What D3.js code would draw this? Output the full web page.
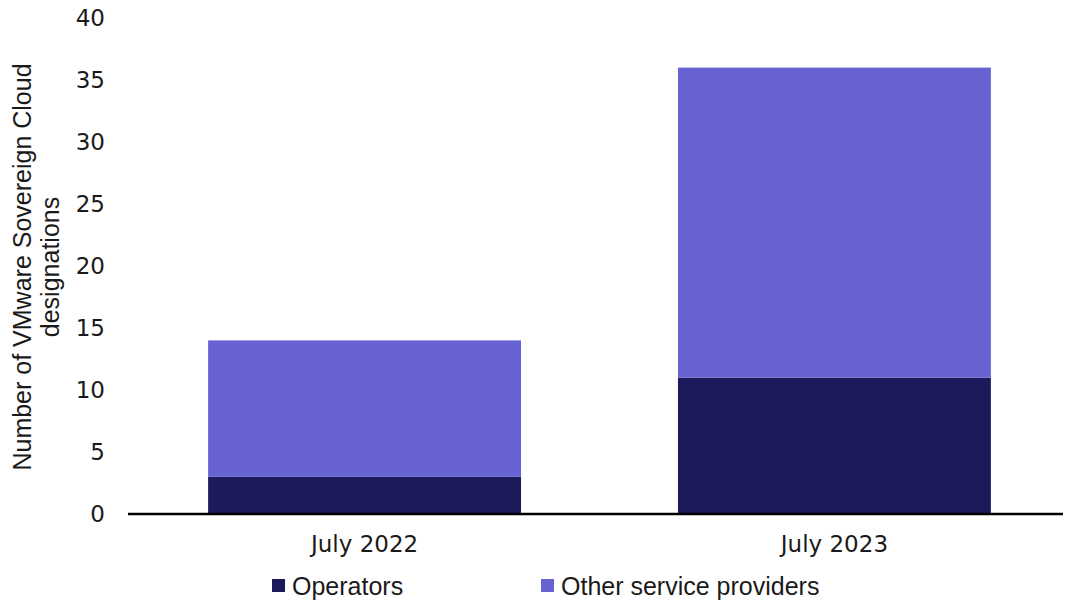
<!DOCTYPE html>
<html>
<head>
<meta charset="utf-8">
<script src="https://cdn.jsdelivr.net/npm/d3@7"></script>
<style>
  body { margin: 0; background: #fff; }
  svg text { fill: #1a1a1a; }
</style>
</head>
<body>
<div id="chart"></div>
<script>
'use strict';

// data
var periods = ['July 2022', 'July 2023'];
var operators = [3, 11];
var otherProviders = [11, 25];
var seriesNames = ['Operators', 'Other service providers'];
var seriesColors = ['#1c1a5a', '#6763d3'];
var yTicks = [0, 5, 10, 15, 20, 25, 30, 35, 40];

var width = 1065, height = 600;
var margin = {top: 18, right: 2, bottom: 86, left: 128};

var svg = d3.select('#chart').append('svg')
  .attr('width', width)
  .attr('height', height);

var rows = periods.map(function(p, i){
  return {period: p, operators: operators[i], other: otherProviders[i]};
});

var stack = d3.stack().keys(['operators', 'other']);
var layers = stack(rows);

// band scale shifted slightly right of the axis line, like the original
var x = d3.scaleBand()
  .domain(periods)
  .range([margin.left + 4, width - margin.right + 4])
  .paddingInner(0.334)
  .paddingOuter(0.162);

var y = d3.scaleLinear()
  .domain([0, 40])
  .range([height - margin.bottom, margin.top]);

// bars
svg.selectAll('.layer')
    .data(layers)
  .enter().append('g')
    .attr('class', 'layer')
    .attr('fill', function(d, i){ return seriesColors[i]; })
  .selectAll('rect')
    .data(function(d){ return d; })
  .enter().append('rect')
    .attr('x', function(d){ return x(d.data.period); })
    .attr('y', function(d){ return y(d[1]); })
    .attr('width', x.bandwidth())
    .attr('height', function(d){ return y(d[0]) - y(d[1]); });

// y axis (labels only)
var yAxis = svg.append('g')
  .attr('transform', 'translate(' + (margin.left - 23) + ',0)')
  .call(d3.axisLeft(y).tickValues(yTicks).tickSize(0).tickPadding(0));
yAxis.select('.domain').remove();
yAxis.selectAll('text')
  .style('font-family', '"DejaVu Sans", sans-serif')
  .style('font-size', '23px')
  .style('fill', '#1a1a1a');

// x axis
var xAxis = svg.append('g')
  .attr('transform', 'translate(0,' + y(0) + ')')
  .call(d3.axisBottom(x).tickSize(0).tickPadding(22));
xAxis.select('.domain').remove();
xAxis.selectAll('text')
  .style('font-family', '"DejaVu Sans", sans-serif')
  .style('font-size', '23px')
  .style('fill', '#1a1a1a');

svg.append('line')
  .attr('x1', margin.left)
  .attr('x2', width - margin.right)
  .attr('y1', y(0))
  .attr('y2', y(0))
  .attr('stroke', '#000')
  .attr('stroke-width', 2.5);

// y title
var title = svg.append('text')
  .attr('transform', 'translate(0,267) rotate(-90)')
  .attr('text-anchor', 'middle')
  .style('font-family', '"Liberation Sans", Arial, sans-serif')
  .style('font-size', '25px');
title.append('tspan').attr('x', 0).attr('y', 31).text('Number of VMware Sovereign Cloud');
title.append('tspan').attr('x', 0).attr('y', 59).text('designations');

// legend
var legendX = [272, 541];
var legend = svg.selectAll('.legend')
    .data(seriesNames)
  .enter().append('g')
    .attr('class', 'legend')
    .attr('transform', function(d, i){ return 'translate(' + legendX[i] + ',586)'; });
legend.append('rect')
  .attr('x', 0)
  .attr('y', -7)
  .attr('width', 13)
  .attr('height', 13)
  .attr('fill', function(d, i){ return seriesColors[i]; });
legend.append('text')
  .attr('x', 20)
  .attr('y', 0)
  .attr('dy', '0.36em')
  .style('font-family', '"Liberation Sans", Arial, sans-serif')
  .style('font-size', '25px')
  .text(function(d){ return d; });
</script>
</body>
</html>
